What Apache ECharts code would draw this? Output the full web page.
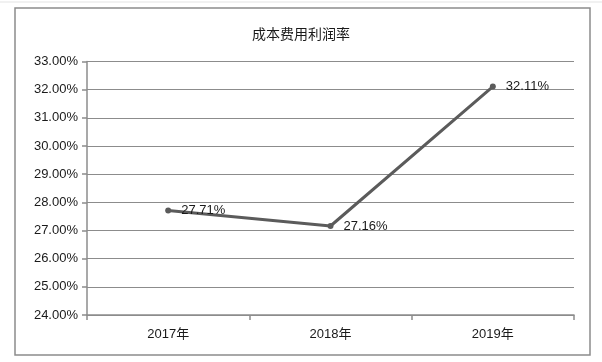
<!DOCTYPE html>
<html>
<head>
<meta charset="utf-8">
<script src="https://cdn.jsdelivr.net/npm/echarts@6/dist/echarts.min.js"></script>
<style>
html,body{margin:0;padding:0;background:#fff;}
#c{width:602px;height:362px;}
</style>
</head>
<body>
<div id="c"></div>
<script>
var title = '成本费用利润率';
var categories = ['2017年', '2018年', '2019年'];
var values = [27.71, 27.16, 32.11];
var yMin = 24, yMax = 33, yStep = 1;

var FONT = '"Liberation Sans", "Noto Sans CJK SC", sans-serif';
var chart = echarts.init(document.getElementById('c'), null, {renderer: 'canvas'});
chart.setOption({
  animation: false,
  backgroundColor: '#fff',
  title: {
    text: title, left: 'center', top: 23,
    textStyle: {fontFamily: FONT, fontSize: 14, fontWeight: 'normal', color: '#1a1a1a'}
  },
  graphic: [
    {type: 'rect', shape: {x: 15, y: 8, width: 575, height: 347},
     style: {fill: 'none', stroke: '#8c8c8c', lineWidth: 1.5}, z: 0, silent: true},
    {type: 'line', shape: {x1: 0, y1: 2, x2: 602, y2: 2},
     style: {stroke: '#e3e3e3', lineWidth: 1}, silent: true}
  ],
  grid: {left: 87, right: 28, top: 61.5, bottom: 47, containLabel: false},
  xAxis: {
    type: 'category', data: categories, boundaryGap: true,
    axisLine: {lineStyle: {color: '#8c8c8c', width: 1.5}},
    axisTick: {show: true, length: 5, lineStyle: {color: '#8c8c8c', width: 1.5}},
    axisLabel: {fontFamily: FONT, fontSize: 13, color: '#1a1a1a', margin: 13}
  },
  yAxis: {
    type: 'value', min: yMin, max: yMax, interval: yStep,
    axisLine: {show: true, lineStyle: {color: '#8c8c8c', width: 1.5}},
    axisTick: {show: true, length: 5, lineStyle: {color: '#8c8c8c', width: 1.5}},
    splitLine: {lineStyle: {color: '#8c8c8c', width: 1.2}},
    axisLabel: {fontFamily: FONT, fontSize: 13, color: '#1a1a1a', margin: 9,
      formatter: function (v) { return v.toFixed(2) + '%'; }}
  },
  series: [{
    type: 'line', data: values,
    lineStyle: {color: '#5b5b5b', width: 3},
    itemStyle: {color: '#5b5b5b'},
    symbol: 'circle', symbolSize: 6,
    label: {show: true, position: 'right', distance: 10,
      fontFamily: FONT, fontSize: 13, color: '#1a1a1a',
      formatter: function (p) { return p.value.toFixed(2) + '%'; }}
  }]
});
</script>
</body>
</html>
